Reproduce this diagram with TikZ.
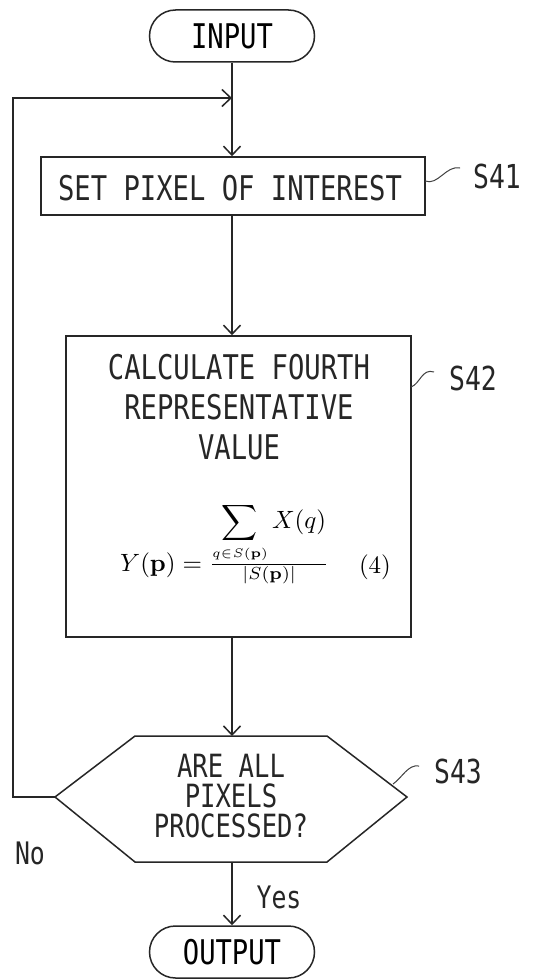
\documentclass[tikz,border=0pt]{standalone}
\usepackage[no-math]{fontspec}
\setmainfont[FakeStretch=0.8]{DejaVu Sans Mono}
\usetikzlibrary{arrows.meta}
\tikzset{
  ln/.style={line width=1.5pt, draw=black!85},
  arr/.style={ln, -{Straight Barb[length=9pt,width=17pt,line width=1.5pt]}},
  term/.style={ln, rectangle, rounded corners=26pt, minimum width=165pt, minimum height=52pt, inner sep=0pt, font=\fontsize{34}{40}\selectfont},
  procbox/.style={ln, rectangle, inner sep=0pt},
  txt/.style={inner sep=0pt, align=center, font=\fontsize{34}{40}\selectfont, text=black!85},
  lbl/.style={inner sep=0pt, font=\fontsize{33}{38}\selectfont, text=black!85},
  lead/.style={line width=1pt, draw=black!75}
}
\begin{document}
\begin{tikzpicture}[x=1pt,y=-1pt]
\useasboundingbox (0,0) rectangle (537,979);
\fill[white] (0,0) rectangle (537,979);

% terminals
\node[term] (in) at (232,36) {INPUT};
\node[term] (out) at (232,952) {OUTPUT};

% S41
\node[procbox, minimum width=384pt, minimum height=58pt] (s41) at (233,186) {};
\node[txt] (s41t) at (230,188) {SET PIXEL OF INTEREST};

% S42
\node[procbox, minimum width=345pt, minimum height=301pt] (s42) at (238.5,486.5) {};
\node[txt] (s42t) at (239,407) {CALCULATE FOURTH\\REPRESENTATIVE\\VALUE};
\node[inner sep=0pt, anchor=base west] (eq) at (120,571)
  {\scalebox{2.5}{$Y(\mathbf{p})=\frac{\displaystyle\sum\limits_{\scriptscriptstyle q\in S(\mathbf{p})}X(q)}{\left|S(\mathbf{p})\right|}$}};
\node[inner sep=0pt, anchor=base] (eqn) at (375,573) {\scalebox{2.5}{$(4)$}};

% S43 hexagon
\coordinate (hl) at (55,797);
\coordinate (ht1) at (135,736);
\coordinate (ht) at (232,736);
\coordinate (ht2) at (327,736);
\coordinate (hr) at (407,797);
\coordinate (hb2) at (327,862);
\coordinate (hb) at (232,862);
\coordinate (hb1) at (135,862);
\draw[ln, line join=miter] (hl) -- (ht1) -- (ht2) -- (hr) -- (hb2) -- (hb1) -- cycle;
\node[txt, font=\fontsize{32}{30}\selectfont] (s43t) at (231,796) {ARE ALL\\PIXELS\\PROCESSED?};

% connectors
\coordinate (join) at (232,98);
\coordinate (lc1) at (13,797);
\coordinate (lc2) at (13,98);
\draw[arr] (in.south) -- (in.south |- s41.north);
\draw[arr] (hl) -- (lc1) -- (lc2) -- (join);
\draw[arr] (s41.south -| in.south) -- (in.south |- s42.north);
\draw[arr] (s42.south -| in.south) -- (ht);
\draw[arr] (hb) -- (out.north);

% step labels
\node[lbl] (l41) at (497,176) {S41};
\node[lbl] (l42) at (473,378) {S42};
\node[lbl] (l43) at (458,771) {S43};
\coordinate (a41) at (425,181);
\coordinate (a42) at (411,387);
\coordinate (a43) at (393,784);
\draw[lead] (a41) .. controls (438,186) and (446,165) .. (460,168);
\draw[lead] (a42) .. controls (420,384) and (422,368) .. (434,372);
\draw[lead] (a43) .. controls (402,778) and (408,764) .. (419,766);

% branch labels
\node[lbl, font=\fontsize{31}{36}\selectfont] (no) at (30,853) {No};
\node[lbl, font=\fontsize{31}{36}\selectfont] (yes) at (279,897) {Yes};
\end{tikzpicture}
\end{document}
